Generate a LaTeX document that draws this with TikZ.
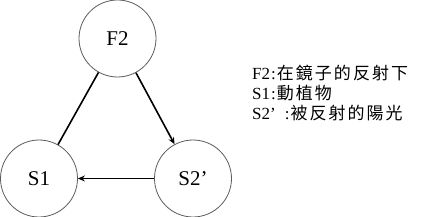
\documentclass[tikz,border=0pt]{standalone}
\usepackage{fontspec}
\setmainfont{Liberation Serif}
\newfontfamily\cjk[LetterSpace=12]{Noto Sans CJK TC}
\usepackage{xcolor}
\usepackage{tikz}
\usetikzlibrary{arrows.meta,positioning}
\definecolor{rim}{HTML}{5C5C5C}
\tikzset{
  statenode/.style={
    circle, draw=rim, line width=0.8pt, fill=white,
    minimum size=77pt, inner sep=0pt,
    font=\fontsize{21}{21}\selectfont
  },
  linkline/.style={line width=1.6pt, black},
  linkarrow/.style={
    -{Stealth[length=7pt,width=6pt]}, line width=1.6pt, black
  },
  legendtext/.style={
    anchor=base west, inner sep=0pt,
    font=\fontsize{17}{17}\selectfont
  },
}

\begin{document}
\begin{tikzpicture}[x=1pt, y=1pt]
    \useasboundingbox (0,0) rectangle (421,217);
    \node[statenode] (f2) at (117.5,178.5) {F2};
    \node[statenode] (s1) at (39,38.5) {S1};
    \node[statenode] (s2) at (193,38.5) {S2’};
    \draw[linkline] (f2) -- (s1);
    \draw[linkarrow] (f2) -- (s2);
    \draw[linkarrow] (s2) -- (s1);
    % legend
    \node[legendtext] (legf) at (252,137) {F2\hspace{1pt}:\hspace{1pt}{\cjk 在鏡子的反射下}};
    \node[legendtext] (legs) at (252,117) {S1\hspace{1pt}:\hspace{1pt}{\cjk 動植物}};
    \node[legendtext] (legt) at (252,97) {S2’\hspace{9pt}:\hspace{1pt}{\cjk 被反射的陽光}};
\end{tikzpicture}
\end{document}
